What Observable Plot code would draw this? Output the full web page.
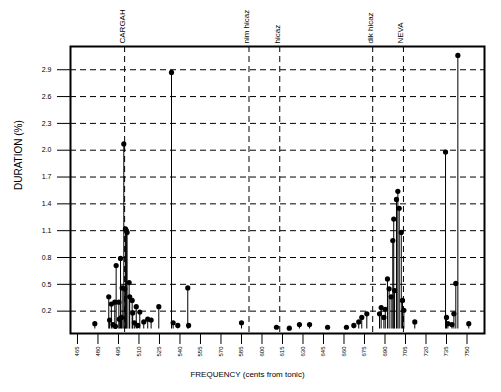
<!DOCTYPE html>
<html>
<head>
<meta charset="utf-8">
<script src="https://cdn.jsdelivr.net/npm/d3@7"></script>
<script src="https://cdn.jsdelivr.net/npm/@observablehq/plot@0.6"></script>
<style>
  html, body { margin: 0; padding: 0; background: #fff; }
  #chart { width: 501px; height: 392px; }
</style>
</head>
<body>
<div id="chart"></div>
<script>
// Frequency of each observed pitch (cents from tonic)
const cents = [
  477.7, 487.9, 488.5, 489.8, 491.0, 492.3, 492.8, 493.3, 495.3, 495.6,
  496.5, 497.2, 497.7, 498.9, 499.6, 500.1, 500.8, 501.3, 502.8, 503.2,
  505.0, 505.4, 506.6, 508.0, 509.1, 510.6, 513.5, 516.4, 518.9, 524.5,
  533.8, 535.0, 538.4, 545.7, 546.3, 585.0, 610.6, 620.0, 627.4, 634.8,
  648.0, 661.8, 667.2, 670.8, 673.0, 676.7, 686.0, 687.2, 689.2, 690.2,
  691.8, 693.0, 694.5, 695.7, 696.4, 697.0, 698.4, 699.4, 700.4, 701.9,
  702.8, 703.8, 711.8, 734.3, 735.0, 736.0, 739.0, 740.4, 741.8, 743.3,
  751.3
];
// Duration (%) of each pitch
const duration = [
  0.06, 0.36, 0.10, 0.28, 0.05, 0.30, 0.03, 0.71, 0.30, 0.11,
  0.79, 0.13, 0.46, 2.07, 0.45, 1.12, 1.10, 1.08, 0.52, 0.36,
  0.32, 0.18, 0.07, 0.25, 0.04, 0.19, 0.08, 0.11, 0.10, 0.25,
  2.87, 0.07, 0.04, 0.46, 0.04, 0.07, 0.02, 0.01, 0.05, 0.05,
  0.02, 0.02, 0.04, 0.08, 0.13, 0.17, 0.17, 0.24, 0.13, 0.22,
  0.56, 0.45, 0.36, 0.99, 1.23, 0.43, 1.45, 1.54, 1.35, 1.08,
  0.32, 0.21, 0.08, 1.98, 0.13, 0.06, 0.05, 0.17, 0.51, 3.06,
  0.06
];
// Reference notes
const noteNames = ["CARGAH", "nim hicaz", "hicaz", "dik hicaz", "NEVA"];
const notePos = [499.5, 590.5, 613, 681, 703.5];
// Axis ticks
const yTicks = [0.2, 0.5, 0.8, 1.1, 1.4, 1.7, 2.0, 2.3, 2.6, 2.9];
const xTicks = [465, 480, 495, 510, 525, 540, 555, 570, 585, 600,
                615, 630, 645, 660, 675, 690, 705, 720, 735, 750];

const data = cents.map((c, i) => ({c, d: duration[i]}));
const font = "'Liberation Sans', Arial, sans-serif";

const chart = Plot.plot({
  width: 501,
  height: 392,
  marginLeft: 70,
  marginRight: 17,
  marginTop: 46,
  marginBottom: 59,
  style: {fontFamily: font, background: "#fff", color: "#000", overflow: "visible"},
  x: {domain: [459.9, 762.8]},
  y: {domain: [-0.05, 3.16]},
  marks: [
    Plot.ruleY(yTicks, {stroke: "#000", strokeWidth: 1, strokeDasharray: "6,4"}),
    Plot.ruleX(notePos, {stroke: "#000", strokeWidth: 1, strokeDasharray: "6,4"}),
    Plot.ruleX(data, {x: "c", y1: 0, y2: "d", stroke: "#000", strokeWidth: 1}),
    Plot.dot(data, {x: "c", y: "d", r: 2.6, fill: "#000", stroke: null}),
    Plot.text(noteNames, {
      x: notePos, text: noteNames, frameAnchor: "top", dy: -3,
      rotate: -90, textAnchor: "start", lineAnchor: "bottom", fontSize: 8, fill: "#000"
    }),
    Plot.axisY({ticks: yTicks, tickSize: 13, tickPadding: 6, fontSize: 7,
      tickFormat: d => d.toFixed(1), label: null}),
    Plot.axisX({ticks: xTicks, tickSize: 11, tickPadding: 2, tickRotate: -90,
      fontSize: 6, tickFormat: d => String(d), label: null}),
    Plot.frame({stroke: "#000", strokeWidth: 2}),
    Plot.text(["DURATION (%)"], {frameAnchor: "left", dx: -52, rotate: -90,
      fontSize: 10, fill: "#000"}),
    Plot.text(["FREQUENCY (cents from tonic)"], {frameAnchor: "bottom", dx: -30, dy: 43,
      fontSize: 8, fill: "#000"})
  ]
});
document.getElementById("chart").appendChild(chart);
</script>
</body>
</html>
